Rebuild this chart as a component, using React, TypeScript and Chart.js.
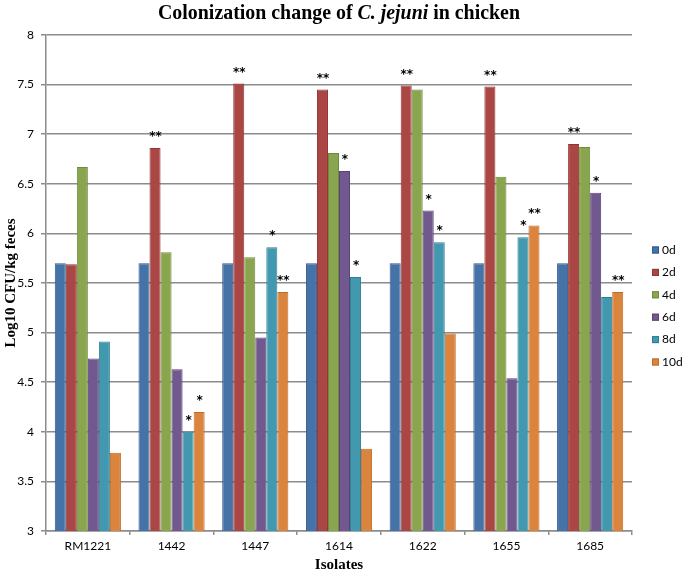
import React, { useEffect, useRef } from 'react';
import { Chart, registerables } from 'chart.js';

Chart.register(...registerables);

// isolates on the x axis, sampling days as series
const isolates = ['RM1221', '1442', '1447', '1614', '1622', '1655', '1685'];
const days = ['0d', '2d', '4d', '6d', '8d', '10d'];

// log10 CFU/kg feces
const day0 = [5.7, 5.7, 5.7, 5.7, 5.7, 5.7, 5.7];
const day2 = [5.69, 6.86, 7.51, 7.45, 7.49, 7.48, 6.9];
const day4 = [6.67, 5.81, 5.76, 6.81, 7.45, 6.57, 6.87];
const day6 = [4.74, 4.63, 4.95, 6.63, 6.23, 4.54, 6.41];
const day8 = [4.91, 4.0, 5.86, 5.56, 5.91, 5.96, 5.36];
const day10 = [3.79, 4.2, 5.41, 3.83, 4.99, 6.08, 5.41];

// significance marks above the bars
const sig0 = ['', '', '', '', '', '', ''];
const sig2 = ['', '**', '**', '**', '**', '**', '**'];
const sig4 = ['', '', '', '', '', '', ''];
const sig6 = ['', '', '', '*', '*', '', '*'];
const sig8 = ['', '*', '*', '*', '*', '*', ''];
const sig10 = ['', '*', '**', '', '', '**', '**'];

const seriesValues = [day0, day2, day4, day6, day8, day10];
const seriesMarks = [sig0, sig2, sig4, sig6, sig8, sig10];
const fillColors = ['#4572A7', '#AA4643', '#89A54E', '#71588F', '#4198AF', '#DB843D'];
const edgeColors = ['#2F5A8C', '#8E3431', '#6F8A3A', '#5A4476', '#2F7F95', '#C06C28'];

const SERIF = '"Liberation Serif", "Times New Roman", serif';
const SANS = 'Lato, "Open Sans", sans-serif';

const titlePlugin = {
  id: 'mixedTitle',
  afterDraw(chart: any) {
    const ctx = chart.ctx;
    const parts = [
      { text: 'Colonization change of ', font: `bold 22px ${SERIF}` },
      { text: 'C. jejuni', font: `italic bold 22px ${SERIF}` },
      { text: ' in chicken', font: `bold 22px ${SERIF}` },
    ];
    ctx.save();
    let total = 0;
    parts.forEach((p) => {
      ctx.font = p.font;
      total += ctx.measureText(p.text).width;
    });
    const target = 362;
    ctx.translate(339, 13);
    ctx.scale(target / total, 1);
    ctx.fillStyle = '#000';
    ctx.textBaseline = 'middle';
    let x = -total / 2;
    parts.forEach((p) => {
      ctx.font = p.font;
      ctx.fillText(p.text, x, 0);
      x += ctx.measureText(p.text).width;
    });
    ctx.restore();
  },
};

const marksPlugin = {
  id: 'sigMarks',
  afterDatasetsDraw(chart: any) {
    const ctx = chart.ctx;
    ctx.save();
    ctx.fillStyle = '#000';
    ctx.font = `bold 12px "DejaVu Sans", sans-serif`;
    ctx.textAlign = 'center';
    ctx.textBaseline = 'alphabetic';
    seriesMarks.forEach((marks, i) => {
      const meta = chart.getDatasetMeta(i);
      meta.data.forEach((bar: any, j: number) => {
        if (marks[j]) ctx.fillText(marks[j], bar.x + 0.5, bar.y - 8);
      });
    });
    ctx.restore();
  },
};

const legendPlugin = {
  id: 'sideLegend',
  afterDraw(chart: any) {
    const ctx = chart.ctx;
    ctx.save();
    ctx.font = `12px ${SANS}`;
    ctx.textBaseline = 'middle';
    chart.data.datasets.forEach((ds: any, i: number) => {
      const y = 250 + i * 22.4;
      ctx.fillStyle = ds.backgroundColor;
      ctx.fillRect(652, y - 3.5, 7, 7);
      ctx.strokeStyle = ds.borderColor;
      ctx.lineWidth = 1;
      ctx.strokeRect(652.5, y - 3, 6, 6);
      ctx.fillStyle = '#000';
      ctx.fillText(ds.label, 662, y);
    });
    ctx.restore();
  },
};

const App: React.FC = () => {
  const canvasRef = useRef<HTMLCanvasElement>(null);

  useEffect(() => {
    document.body.style.margin = '0';
    if (!canvasRef.current) return;

    const chart = new Chart(canvasRef.current, {
      type: 'bar',
      data: {
        labels: isolates,
        datasets: days.map((d, i) => ({
          label: d,
          data: seriesValues[i],
          backgroundColor: fillColors[i],
          borderColor: edgeColors[i],
          borderWidth: 1,
          categoryPercentage: 0.79,
          barPercentage: 1.0,
        })),
      },
      options: {
        responsive: false,
        animation: false,
        layout: { padding: { top: 35, right: 50, bottom: 0, left: 0 } },
        plugins: {
          legend: { display: false },
          title: { display: false },
          tooltip: { enabled: false },
        },
        scales: {
          x: {
            afterFit: (scale: any) => {
              scale.height = 43;
            },
            grid: {
              display: true,
              drawOnChartArea: false,
              drawTicks: true,
              tickLength: 4,
              color: '#8c8c8c',
              lineWidth: 1.5,
            },
            border: { color: '#8c8c8c', width: 1.5 },
            ticks: {
              padding: 4,
              color: '#000',
              font: { family: SANS, size: 12 },
              maxRotation: 0,
            },
            title: {
              display: true,
              text: 'Isolates',
              color: '#000',
              font: { family: SERIF, size: 15, weight: 'bold' },
              padding: { top: 0, bottom: 0 },
            },
          },
          y: {
            min: 3,
            max: 8,
            afterFit: (scale: any) => {
              scale.width = 46;
            },
            grid: {
              color: '#8c8c8c',
              lineWidth: 1.5,
              tickLength: 5,
            },
            border: { color: '#8c8c8c', width: 1.5 },
            ticks: {
              stepSize: 0.5,
              padding: 7,
              color: '#000',
              font: { family: SANS, size: 12 },
              callback: (value: any) => String(value),
            },
            title: {
              display: true,
              text: 'Log10 CFU/kg feces',
              color: '#000',
              font: { family: SERIF, size: 15, weight: 'bold' },
              padding: { top: 2, bottom: 0 },
            },
          },
        },
      },
      plugins: [titlePlugin, marksPlugin, legendPlugin],
    });

    return () => {
      chart.destroy();
    };
  }, []);

  return (
    <div style={{ width: 682, height: 574, background: '#fff' }}>
      <canvas ref={canvasRef} width={682} height={574}></canvas>
    </div>
  );
};

export default App;
